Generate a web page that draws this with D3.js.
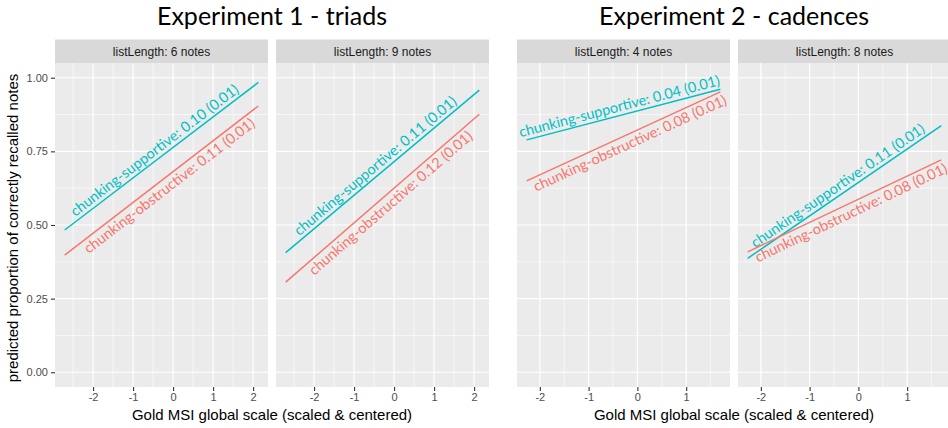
<!DOCTYPE html>
<html>
<head>
<meta charset="utf-8">
<script src="https://cdn.jsdelivr.net/npm/d3@7"></script>
<style>
  html, body { margin: 0; padding: 0; background: #ffffff; }
  svg { display: block; }
</style>
</head>
<body>
<svg id="chart" width="948" height="428"></svg>
<script>
// ---------- data ----------
const experiments = ["Experiment 1 - triads", "Experiment 2 - cadences"];
const panelTitles = ["listLength: 6 notes", "listLength: 9 notes", "listLength: 4 notes", "listLength: 8 notes"];
const panelExperiment = [0, 0, 1, 1];
const seriesNames = ["chunking-supportive", "chunking-obstructive"];
// Gold MSI range covered by the fitted lines (per experiment)
const xMin = [-2.71, -2.27];
const xMax = [2.13, 1.70];
// predicted proportion at the start / end of each fitted line (per panel)
const supportiveStart = [0.483, 0.406, 0.789, 0.387];
const supportiveEnd = [0.984, 0.958, 0.961, 0.837];
const obstructiveStart = [0.398, 0.306, 0.650, 0.409];
const obstructiveEnd = [0.904, 0.876, 0.952, 0.721];
const supportiveEstimate = ["0.10 (0.01)", "0.11 (0.01)", "0.04 (0.01)", "0.11 (0.01)"];
const obstructiveEstimate = ["0.11 (0.01)", "0.12 (0.01)", "0.08 (0.01)", "0.08 (0.01)"];
const yTicks = [0, 0.25, 0.5, 0.75, 1];
const yTickLabels = ["0.00", "0.25", "0.50", "0.75", "1.00"];
const xTicksExp = [[-2, -1, 0, 1, 2], [-2, -1, 0, 1]];
const xTitle = "Gold MSI global scale (scaled & centered)";
const yTitle = "predicted proportion of correctly recalled notes";

// ---------- layout ----------
const colors = ["#00BFC4", "#F8766D"];
const panelX = [[55, 268], [276, 489], [517, 730], [738, 951]];
const panelTop = 63, panelBottom = 387, stripTop = 39.5;
const expCenter = [272, 734];
const textFont = "'Liberation Sans', Arial, sans-serif";
const labelFont = "Lato, 'Open Sans', sans-serif";

const svg = d3.select("#chart");
const y = d3.scaleLinear().domain([-0.05, 1.05]).range([panelBottom, panelTop]);

// size the line labels so that a supportive label is ~207px long
const probe = svg.append("text").attr("font-family", labelFont).attr("font-size", 15)
  .text(seriesNames[0] + ": " + supportiveEstimate[0]);
const labelSize = 15 * 207 / probe.node().getComputedTextLength();
probe.remove();

panelTitles.forEach((title, p) => {
  const e = panelExperiment[p];
  const span = xMax[e] - xMin[e];
  const x = d3.scaleLinear()
    .domain([xMin[e] - 0.05 * span, xMax[e] + 0.05 * span])
    .range(panelX[p]);
  const g = svg.append("g");
  const [x0, x1] = panelX[p];

  // panel background
  g.append("rect").attr("x", x0).attr("y", panelTop)
    .attr("width", x1 - x0).attr("height", panelBottom - panelTop)
    .attr("fill", "#EBEBEB");
  // strip
  g.append("rect").attr("x", x0).attr("y", stripTop)
    .attr("width", x1 - x0).attr("height", panelTop - stripTop)
    .attr("fill", "#D9D9D9");
  g.append("text").attr("x", (x0 + x1) / 2).attr("y", 56.3)
    .attr("text-anchor", "middle").attr("font-family", textFont)
    .attr("font-size", 12).attr("fill", "#1a1a1a").text(title);

  // minor grid
  const xt = xTicksExp[e];
  const [dx0, dx1] = x.domain();
  const xMinor = d3.range(Math.ceil(dx0 - 0.5) + 0.5, dx1, 1).filter(v => v > dx0 && v < dx1);
  const yMinor = [0.125, 0.375, 0.625, 0.875];
  g.selectAll(".xminor").data(xMinor).enter().append("line")
    .attr("x1", d => x(d)).attr("x2", d => x(d))
    .attr("y1", panelTop).attr("y2", panelBottom)
    .attr("stroke", "#ffffff").attr("stroke-width", 0.6);
  g.selectAll(".yminor").data(yMinor).enter().append("line")
    .attr("x1", x0).attr("x2", x1)
    .attr("y1", d => y(d)).attr("y2", d => y(d))
    .attr("stroke", "#ffffff").attr("stroke-width", 0.6);
  // major grid
  g.selectAll(".xmajor").data(xt).enter().append("line")
    .attr("x1", d => x(d)).attr("x2", d => x(d))
    .attr("y1", panelTop).attr("y2", panelBottom)
    .attr("stroke", "#ffffff").attr("stroke-width", 1.2);
  g.selectAll(".ymajor").data(yTicks).enter().append("line")
    .attr("x1", x0).attr("x2", x1)
    .attr("y1", d => y(d)).attr("y2", d => y(d))
    .attr("stroke", "#ffffff").attr("stroke-width", 1.2);

  // x axis
  const xAxis = d3.axisBottom(x).tickValues(xt).tickSize(4).tickPadding(2)
    .tickFormat(d => d < 0 ? "-" + Math.abs(d) : String(d));
  const ax = g.append("g").attr("transform", `translate(0,${panelBottom})`).call(xAxis);
  ax.select(".domain").remove();
  ax.selectAll(".tick line").attr("stroke", "#333333").attr("stroke-width", 1.1);
  ax.selectAll(".tick text").attr("font-family", textFont).attr("font-size", 11)
    .attr("fill", "#4d4d4d");

  // y axis only on the leftmost panel
  if (p === 0) {
    const yAxis = d3.axisLeft(y).tickValues(yTicks).tickSize(4).tickPadding(3)
      .tickFormat((d, i) => yTickLabels[i]);
    const ay = g.append("g").attr("transform", `translate(${x0},0)`).call(yAxis);
    ay.select(".domain").remove();
    ay.selectAll(".tick line").attr("stroke", "#333333").attr("stroke-width", 1.1);
    ay.selectAll(".tick text").attr("font-family", textFont).attr("font-size", 11)
      .attr("fill", "#4d4d4d");
  }

  // fitted lines + labels
  const series = [
    { start: supportiveStart[p], end: supportiveEnd[p], label: seriesNames[0] + ": " + supportiveEstimate[p], above: true, color: colors[0] },
    { start: obstructiveStart[p], end: obstructiveEnd[p], label: seriesNames[1] + ": " + obstructiveEstimate[p], above: false, color: colors[1] }
  ];
  const line = d3.line().x(d => x(d[0])).y(d => y(d[1]));
  series.forEach(s => {
    const pts = [[xMin[e], s.start], [xMax[e], s.end]];
    g.append("path").attr("d", line(pts)).attr("fill", "none")
      .attr("stroke", s.color).attr("stroke-width", 1.5);
    const sx0 = x(pts[0][0]), sy0 = y(pts[0][1]), sx1 = x(pts[1][0]), sy1 = y(pts[1][1]);
    const ang = Math.atan2(sy1 - sy0, sx1 - sx0) * 180 / Math.PI;
    const mx = (sx0 + sx1) / 2, my = (sy0 + sy1) / 2;
    g.append("text")
      .attr("transform", `translate(${mx},${my}) rotate(${ang})`)
      .attr("text-anchor", "middle")
      .attr("dx", s.above ? -2 : 3)
      .attr("dy", s.above ? -4 : 14)
      .attr("font-family", labelFont).attr("font-size", labelSize)
      .attr("fill", s.color).text(s.label);
  });
});

// experiment titles and x titles
experiments.forEach((t, i) => {
  svg.append("text").attr("x", expCenter[i]).attr("y", 25)
    .attr("text-anchor", "middle").attr("font-family", labelFont)
    .attr("font-size", 25).attr("fill", "#000000").text(t);
  svg.append("text").attr("x", expCenter[i]).attr("y", 419.5)
    .attr("text-anchor", "middle").attr("font-family", textFont)
    .attr("font-size", 15).attr("fill", "#000000").text(xTitle);
});

// y axis title
svg.append("text")
  .attr("transform", `translate(18,${(panelTop + panelBottom) / 2 + 3}) rotate(-90)`)
  .attr("text-anchor", "middle").attr("font-family", textFont)
  .attr("font-size", 15).attr("fill", "#000000").text(yTitle);
</script>
</body>
</html>
